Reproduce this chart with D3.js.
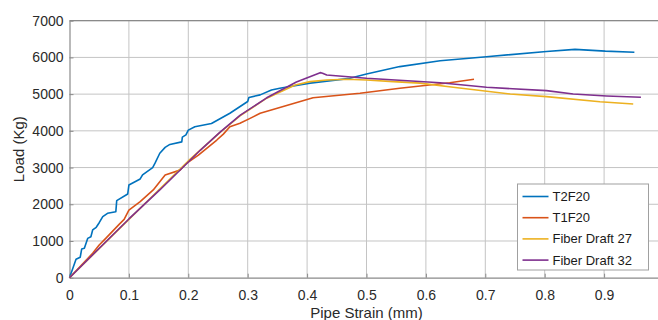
<!DOCTYPE html>
<html>
<head>
<meta charset="utf-8">
<script src="https://cdn.jsdelivr.net/npm/d3@7"></script>
<style>
  html, body { margin: 0; padding: 0; background: #fff; }
  svg { display: block; font-family: "Liberation Sans", Arial, Helvetica, sans-serif; }
</style>
</head>
<body>
<div id="chart"></div>
<script>
// strain (mm), load (Kg) pairs
const t2f20 = [
  [0, 0], [0.011, 500], [0.018, 555], [0.0205, 780], [0.025, 800], [0.0306, 1070], [0.036, 1117],
  [0.039, 1300], [0.045, 1373], [0.05, 1498], [0.056, 1662], [0.064, 1754], [0.078, 1798],
  [0.0795, 2098], [0.098, 2280], [0.1, 2525], [0.119, 2690], [0.123, 2800], [0.14, 3000],
  [0.144, 3120], [0.152, 3390], [0.161, 3550], [0.169, 3630], [0.189, 3700], [0.19, 3830],
  [0.196, 3890], [0.2, 4020], [0.211, 4110], [0.239, 4200], [0.27, 4480], [0.3, 4800],
  [0.302, 4910], [0.321, 4980], [0.34, 5110], [0.354, 5160], [0.405, 5300], [0.472, 5430],
  [0.5, 5550], [0.556, 5750], [0.624, 5910], [0.702, 6020], [0.803, 6160], [0.851, 6220],
  [0.902, 6170], [0.951, 6140]
];
const t1f20 = [
  [0, 0], [0.039, 665], [0.05, 890], [0.061, 1070], [0.084, 1460], [0.092, 1590], [0.1, 1840],
  [0.119, 2070], [0.141, 2390], [0.161, 2800], [0.186, 2930], [0.197, 3116], [0.217, 3340],
  [0.248, 3750], [0.259, 3910], [0.27, 4110], [0.287, 4206], [0.304, 4340], [0.321, 4480],
  [0.41, 4900], [0.489, 5023], [0.556, 5159], [0.64, 5312], [0.681, 5404]
];
const fiber27 = [
  [0, 0], [0.1, 1590], [0.2, 3180], [0.253, 3950], [0.287, 4410], [0.332, 4890], [0.36, 5100],
  [0.38, 5250], [0.405, 5340], [0.433, 5385], [0.467, 5404], [0.5, 5385], [0.545, 5340],
  [0.59, 5300], [0.646, 5186], [0.742, 5004], [0.803, 4931], [0.893, 4794], [0.949, 4732]
];
const fiber32 = [
  [0, 0], [0.1, 1600], [0.152, 2390], [0.203, 3200], [0.22, 3470], [0.253, 3960], [0.287, 4420],
  [0.332, 4900], [0.382, 5330], [0.422, 5585], [0.426, 5570], [0.433, 5522], [0.5, 5432],
  [0.624, 5312], [0.702, 5186], [0.803, 5095], [0.848, 5004], [0.904, 4950], [0.962, 4914]
];
const seriesNames = ["T2F20", "T1F20", "Fiber Draft 27", "Fiber Draft 32"];
const seriesColors = ["#0072BD", "#D95319", "#EDB120", "#7E2F8E"];
const xTicks = [0, 0.1, 0.2, 0.3, 0.4, 0.5, 0.6, 0.7, 0.8, 0.9];
const yTicks = [0, 1000, 2000, 3000, 4000, 5000, 6000, 7000];

const width = 658, height = 320;
const m = { left: 69.5, right: 663.5, top: 20.7, bottom: 277.7 };

const svg = d3.select("#chart").append("svg")
  .attr("width", width).attr("height", height);

const x = d3.scaleLinear().domain([0, 1]).range([m.left, m.right]);
const y = d3.scaleLinear().domain([0, 7000]).range([m.bottom, m.top]);

const axisCol = "#8a8a8a";
const gridCol = "#c4c4c4";

// grid
svg.append("g").selectAll("line").data(xTicks.slice(1)).enter().append("line")
  .attr("x1", d => x(d)).attr("x2", d => x(d)).attr("y1", m.top).attr("y2", m.bottom)
  .attr("stroke", gridCol).attr("stroke-width", 1);
svg.append("g").selectAll("line").data(yTicks.slice(1)).enter().append("line")
  .attr("x1", m.left).attr("x2", m.right).attr("y1", d => y(d)).attr("y2", d => y(d))
  .attr("stroke", gridCol).attr("stroke-width", 1);

// axes (MATLAB style, ticks inward)
const xAxis = svg.append("g").attr("transform", `translate(0,${m.bottom})`)
  .call(d3.axisBottom(x).tickValues(xTicks).tickSizeInner(-4).tickSizeOuter(0).tickPadding(12)
    .tickFormat(d => String(d)));
const yAxis = svg.append("g").attr("transform", `translate(${m.left},0)`)
  .call(d3.axisLeft(y).tickValues(yTicks).tickSizeInner(-4).tickSizeOuter(0).tickPadding(6)
    .tickFormat(d3.format("d")));
[xAxis, yAxis].forEach(a => {
  a.select(".domain").attr("stroke", axisCol).attr("stroke-width", 1.2);
  a.selectAll(".tick line").attr("stroke", axisCol);
  a.selectAll(".tick text").attr("fill", "#2a2a2a").attr("font-size", 14)
    .attr("font-family", "'Liberation Sans', Arial, sans-serif");
});
xAxis.selectAll(".tick text").attr("dy", "0.71em");
// top frame
svg.append("line").attr("x1", m.left).attr("x2", m.right).attr("y1", m.top).attr("y2", m.top)
  .attr("stroke", axisCol).attr("stroke-width", 1.2);

// axis titles
svg.append("text").attr("x", x(0.5)).attr("y", 318).attr("text-anchor", "middle")
  .attr("font-size", 15).attr("fill", "#2a2a2a").text("Pipe Strain (mm)");
svg.append("text").attr("transform", `translate(24,${(m.top + m.bottom) / 2}) rotate(-90)`)
  .attr("text-anchor", "middle").attr("font-size", 15).attr("fill", "#2a2a2a").text("Load (Kg)");

// lines
const line = d3.line().x(d => x(d[0])).y(d => y(d[1]));
const allSeries = [t2f20, t1f20, fiber27, fiber32];
svg.append("g").selectAll("path").data(allSeries).enter().append("path")
  .attr("d", line)
  .attr("fill", "none")
  .attr("stroke", (d, i) => seriesColors[i])
  .attr("stroke-width", 1.6)
  .attr("stroke-linejoin", "round");

// legend
const lg = svg.append("g").attr("transform", "translate(517.5,184)");
lg.append("rect").attr("width", 131).attr("height", 86)
  .attr("fill", "#fff").attr("stroke", "#a0a0a0").attr("stroke-width", 1);
const items = lg.selectAll("g.item").data(seriesNames).enter().append("g")
  .attr("class", "item")
  .attr("transform", (d, i) => `translate(0,${12.5 + i * 21.2})`);
items.append("line").attr("x1", 5).attr("x2", 31).attr("y1", 0).attr("y2", 0)
  .attr("stroke", (d, i) => seriesColors[i]).attr("stroke-width", 1.6);
items.append("text").attr("x", 35).attr("y", 0).attr("dy", "0.35em")
  .attr("font-size", 13).attr("fill", "#1a1a1a").text(d => d);
</script>
</body>
</html>
